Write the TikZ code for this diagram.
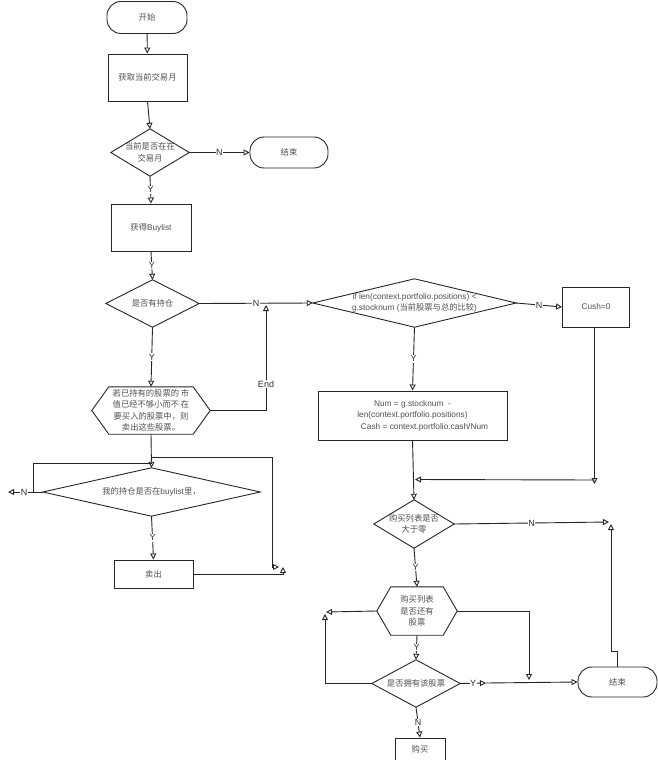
\documentclass[tikz,border=0pt]{standalone}
\usepackage{fontspec}
\setmainfont{Liberation Sans}
\newfontfamily\cjk{Noto Sans CJK SC}
\usetikzlibrary{arrows.meta,calc}
\definecolor{lnc}{HTML}{262626}
\definecolor{txc}{HTML}{505050}
\definecolor{lbc}{HTML}{303030}
\begin{document}
\begin{tikzpicture}[x=1pt,y=-1pt,
  every node/.style={inner sep=0pt, text=txc, font=\fontsize{8.3}{11.5}\selectfont, align=center},
  box/.style={draw=lnc, line width=0.9pt},
  term/.style={draw=lnc, line width=0.9pt, rounded corners=14pt},
  holder/.style={draw=none},
  ln/.style={draw=lnc, line width=0.9pt},
  arr/.style={draw=lnc, line width=0.9pt, -{Triangle[open,length=6pt,width=6pt]}},
  lab/.style={fill=white, inner sep=0.6pt, text=lbc, font=\fontsize{9}{10}\selectfont}]
\useasboundingbox (0,0) rectangle (658,760);
\clip (0,0) rectangle (658,760);
\fill[white] (0,0) rectangle (658,760);

% left column
\node[term, minimum width=80pt, minimum height=32pt] (start) at (147,17.5) {\cjk 开始};
\node[box, minimum width=79pt, minimum height=47pt] (r1) at (147.5,77.5) {\cjk 获取当前交易月};
\node[holder, minimum width=78pt, minimum height=47pt] (d1) at (150,152.5) {\cjk 当前是否在在\\\cjk 交易月};
\node[term, minimum width=78pt, minimum height=31pt] (e1) at (289,152.5) {\cjk 结束};
\node[box, minimum width=80pt, minimum height=47pt] (r2) at (151,227.5) {{\cjk 获得}Buylist};
\node[holder, minimum width=93pt, minimum height=47pt] (d2) at (152.5,303.5) {\cjk 是否有持仓};
\node[holder, minimum width=118pt, minimum height=47pt] (h1) at (151,410.5)
  {\cjk 若已持有的股票的 市\\\cjk 值已经不够小而不 在\\\cjk 要买入的股票中，则\\\cjk 卖出这些股票。};
\node[holder, minimum width=217pt, minimum height=48pt] (d4) at (151.5,492) {{\cjk 我的持仓是否在}buylist{\cjk 里，}};
\node[box, minimum width=79pt, minimum height=28pt] (r3) at (153.5,574) {\cjk 卖出};

% right column
\node[holder, minimum width=203pt, minimum height=48pt] (d3) at (414.5,303)
  {if len(context.portfolio.positions) <\\g.stocknum ({\cjk 当前股票与总的比较})};
\node[box, minimum width=67pt, minimum height=40pt] (r4) at (596,307) {Cush=0};
\node[box, minimum width=189pt, minimum height=49pt] (r5) at (412.5,415.5)
  {Num = g.stocknum \ -\\len(context.portfolio.positions)\\\hspace*{24pt}Cash = context.portfolio.cash/Num};
\node[holder, minimum width=80pt, minimum height=48pt] (d5) at (414,524) {\cjk 购买列表是否\\\cjk 大于零};
\node[holder, minimum width=80pt, minimum height=48pt] (h2) at (417,611) {\cjk 购买列表\\\cjk 是否还有\\\cjk 股票};
\node[holder, minimum width=88pt, minimum height=47pt] (d6) at (416,683.5) {\cjk 是否拥有该股票};
\node[term, minimum width=79pt, minimum height=30pt] (e2) at (617.5,682) {\cjk 结束};
\node[box, minimum width=50pt, minimum height=34pt] (r6) at (420,755) {};
\node (r6t) at (420,749) {\cjk 购买};

% diamond outlines
\foreach \d in {d1,d2,d3,d4,d5,d6}
  \draw[ln] (\d.north) -- (\d.east) -- (\d.south) -- (\d.west) -- cycle;
% hexagon outlines
\draw[ln] (h1.west) -- ($(h1.north west)+(17,0)$) -- ($(h1.north east)+(-17,0)$) -- (h1.east)
  -- ($(h1.south east)+(-17,0)$) -- ($(h1.south west)+(17,0)$) -- cycle;
\draw[ln] (h2.west) -- ($(h2.north west)+(14,0)$) -- ($(h2.north east)+(-14,0)$) -- (h2.east)
  -- ($(h2.south east)+(-14,0)$) -- ($(h2.south west)+(14,0)$) -- cycle;

% coordinates
\coordinate (endj) at (266,305);
\coordinate (lend) at (8,492);
\coordinate (lp1) at (33,492);
\coordinate (lp2) at (33,463);
\coordinate (lp3) at (152,463);
\coordinate (rp1) at (152,457);
\coordinate (rp2) at (272,567);
\coordinate (rp3) at (279,567);
\coordinate (rp4) at (283,567);
\coordinate (c1) at (594.5,484);
\coordinate (c2) at (595,480);
\coordinate (c3) at (415,479.5);
\coordinate (n5) at (609,522);
\coordinate (q1) at (611,651);
\coordinate (q2) at (611,524);
\coordinate (hr) at (529,680);
\coordinate (hl) at (326,612);
\coordinate (dl) at (325,614);
\coordinate (y6) at (486,683);

% left connectors
\draw[arr] (start) -- (r1);
\draw[arr] (r1.south) -- (d1.north);
\draw[arr] (d1.east) -- node[lab] (l1) {N} (e1.west);
\draw[arr] (d1.south) -- node[lab] (l2) {Y} (r2.north);
\draw[arr] (r2.south) -- node[lab] (l3) {Y} (d2.north);
\draw[arr] (d2.east) -- node[lab] (l4) {N} (d3.west);
\draw[arr] (d2.south) -- node[lab] (l5) {Y} (h1.north);
\draw[arr] (h1.east) -| (endj);
\node[lab] (lEnd) at (266,384) {End};
\draw[arr] (h1.south) -- (d4.north);
\draw[ln] (lp1) -- (lp2) -- (lp3);
\draw[arr] (d4.west) -- (lend);
\node[lab] (l6) at (24,492) {N};
\draw[arr] (rp1) -| (rp2) -- (rp3);
\draw[arr] (r3.east) -| (rp4);
\draw[arr] (d4.south) -- node[lab] (l7) {Y} (r3.north);

% right connectors
\draw[arr] (d3.east) -- node[lab] (l8) {N} (r4.west);
\draw[arr] (d3.south) -- node[lab] (l9) {Y} (r5.north);
\draw[arr] (r5.south) -- (d5.north);
\draw[arr] (r4.south -| c1) -- (c1);
\draw[arr] (c2) -- (c3);
\draw[arr] (d5.east) -- node[lab] (l10) {N} (n5);
\draw[arr] (e2.north) |- (q1) -- (q2);
\draw[arr] (d5.south) -- node[lab] (l11) {Y} (h2.north);
\draw[arr] (h2.east) -| (hr);
\draw[arr] (h2.west) -- (hl);
\draw[arr] (d6.west) -| (dl);
\draw[arr] (h2.south) -- node[lab] (l12) {Y} (d6.north);
\draw[arr] (d6.east) -- node[lab] (l13) {Y} (y6);
\draw[arr] (y6) -- (e2.west);
\draw[arr] (d6.south) -- node[lab] (l14) {N} (r6.north);
\end{tikzpicture}
\end{document}
